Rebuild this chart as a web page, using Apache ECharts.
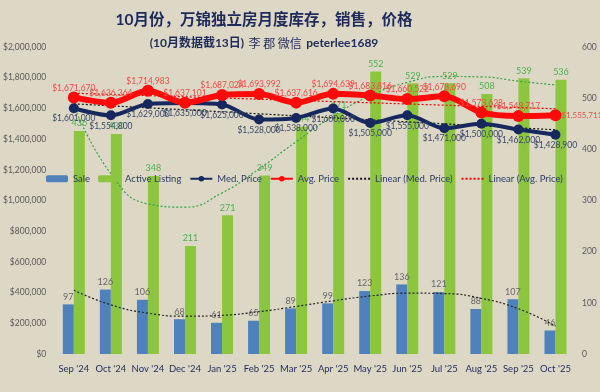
<!DOCTYPE html>
<html><head><meta charset="utf-8">
<script src="https://cdn.jsdelivr.net/npm/echarts@6/dist/echarts.min.js"></script>
<style>html,body{margin:0;padding:0;background:#ddd8c5}#c{width:600px;height:392px}</style>
</head><body><div id="c"></div>
<script>
const categories = ["Sep '24","Oct '24","Nov '24","Dec '24","Jan '25","Feb '25","Mar '25","Apr '25","May '25","Jun '25","Jul '25","Aug '25","Sep '25","Oct '25"];
const sale = [97,126,106,68,61,65,89,99,123,136,121,88,107,46];
const activeListing = [436,430,348,211,271,349,444,471,552,529,529,508,539,536];
const medPrice = [1601000,1554800,1629000,1635000,1625000,1528000,1538000,1600000,1505000,1555000,1471000,1500000,1462000,1428900];
const avgPrice = [1671670,1636364,1714983,1637101,1687024,1693992,1637616,1694639,1683816,1660522,1678690,1573623,1549717,1555711];
const leftTicks = [0,2000000,200000];
const rightTicks = [0,600,100];

function polyfit(ys, deg){
  const n=ys.length, h=(n-1)/2, m=deg+1;
  const t=ys.map((_,i)=>(i-h)/h);
  const A=[];
  for(let r=0;r<m;r++){const row=[];for(let c=0;c<m;c++){let s=0;for(let i=0;i<n;i++)s+=Math.pow(t[i],r+c);row.push(s);}
    let b=0;for(let i=0;i<n;i++)b+=ys[i]*Math.pow(t[i],r);row.push(b);A.push(row);}
  for(let c=0;c<m;c++){let p=c;for(let r=c+1;r<m;r++)if(Math.abs(A[r][c])>Math.abs(A[p][c]))p=r;
    [A[c],A[p]]=[A[p],A[c]];
    for(let r=0;r<m;r++){if(r===c)continue;const f=A[r][c]/A[c][c];for(let k=c;k<=m;k++)A[r][k]-=f*A[c][k];}}
  const co=A.map((row,i)=>row[m]/row[i]);
  return t.map(x=>{let s=0,p=1;for(let k=0;k<m;k++){s+=co[k]*p;p*=x;}return s;});
}

const fmt = v => '$' + Math.round(v).toLocaleString('en-US');
const FONT = 'Lato, "Noto Sans CJK SC", sans-serif';
const NARROW = '"Liberation Sans Narrow", Lato, sans-serif';

const chart = echarts.init(document.getElementById('c'), null, {renderer:'canvas'});
chart.setOption({
  animation:false,
  backgroundColor:'#ddd8c5',
  textStyle:{fontFamily:FONT},
  title:[
    {text:'10月份，万锦独立房月度库存，销售，价格', left:259, top:7, textAlign:'center',
     textStyle:{fontSize:15.5, fontWeight:'bold', color:'#1f2a5c', fontFamily:FONT}},
    {text:'{b|(10月数据截13日)} {n|李 郡 微信} {b|peterlee1689}', left:259, top:29, textAlign:'center',
     textStyle:{rich:{
       b:{fontSize:12, fontWeight:'bold', color:'#1f2a5c', fontFamily:FONT},
       n:{fontSize:12, fontWeight:'normal', color:'#1f2a5c', fontFamily:'"Noto Sans CJK SC", sans-serif'}}}}
  ],
  legend:{
    data:['Sale','Active Listing','Med. Price','Avg. Price',
          {name:'Linear (Med. Price)', itemStyle:{opacity:0}},
          {name:'Linear (Avg. Price)', itemStyle:{opacity:0}}],
    left:41, top:169, itemWidth:22, itemHeight:7, itemGap:8,
    textStyle:{fontSize:9.5, color:'#2a3a66', fontFamily:FONT}
  },
  grid:{left:48, right:26, top:47, bottom:38},
  xAxis:{type:'category', data:categories,
    axisLine:{show:false}, axisTick:{show:false},
    axisLabel:{fontSize:9.5, color:'#1f2a5c', margin:10, interval:0, fontFamily:FONT}},
  yAxis:[
    {type:'value', min:leftTicks[0], max:leftTicks[1], interval:leftTicks[2],
     splitLine:{show:false}, axisLine:{show:false}, axisTick:{show:false},
     axisLabel:{fontSize:8.5, color:'#595959', formatter:v=>fmt(v), margin:9, fontFamily:NARROW}},
    {type:'value', min:rightTicks[0], max:rightTicks[1], interval:rightTicks[2],
     splitLine:{show:false}, axisLine:{show:false}, axisTick:{show:false},
     axisLabel:{fontSize:8.5, color:'#595959', margin:8, fontFamily:NARROW}}
  ],
  series:[
    {name:'Sale', type:'bar', yAxisIndex:1, data:sale, barWidth:11, barGap:'0%',
     itemStyle:{color:'#4f81bd'},
     label:{show:true, position:'top', fontSize:9, color:'#666', distance:3, fontFamily:NARROW}},
    {name:'Active Listing', type:'bar', yAxisIndex:1, data:activeListing, barWidth:11,
     itemStyle:{color:'#8cc63f'},
     label:{show:true, position:'top', fontSize:9, color:'#4caf50', distance:3, fontFamily:NARROW}},
    {name:'sale-trend', type:'line', yAxisIndex:1, data:polyfit(sale,3), smooth:true, symbol:'none',
     lineStyle:{color:'#222', width:1.2, type:[2,2]}, z:3, silent:true},
    {name:'active-trend', type:'line', yAxisIndex:1, data:polyfit(activeListing,4), smooth:true, symbol:'none',
     lineStyle:{color:'#3aa04a', width:1.2, type:[2,2]}, z:3, silent:true},
    {name:'Linear (Med. Price)', type:'line', data:polyfit(medPrice,1), symbol:'none',
     lineStyle:{color:'#111', width:1.2, type:[2,2]}, itemStyle:{color:'#111'}, z:4},
    {name:'Linear (Avg. Price)', type:'line', data:polyfit(avgPrice,1), symbol:'none',
     lineStyle:{color:'#e00', width:1.2, type:[2,2]}, itemStyle:{color:'#e00'}, z:4},
    {name:'Med. Price', type:'line', data:medPrice, smooth:0.3, symbol:'circle', symbolSize:10,
     lineStyle:{color:'#16285e', width:4}, itemStyle:{color:'#16285e'}, z:5,
     label:{show:true, position:'bottom', fontSize:8.5, color:'#3a4668', formatter:p=>fmt(p.value), distance:1, fontFamily:NARROW}},
    {name:'Avg. Price', type:'line', data:avgPrice.map((v,i)=>i===avgPrice.length-1?{value:v,label:{position:'right', distance:0, fontSize:8}}:v),
     smooth:0.3, symbol:'circle', symbolSize:12,
     lineStyle:{color:'#ff0a0a', width:6}, itemStyle:{color:'#ff0a0a'}, z:6,
     label:{show:true, position:'top', fontSize:8.5, color:'#f04a4a', formatter:p=>fmt(p.value), distance:-1, fontFamily:NARROW}}
  ]
});
</script></body></html>
